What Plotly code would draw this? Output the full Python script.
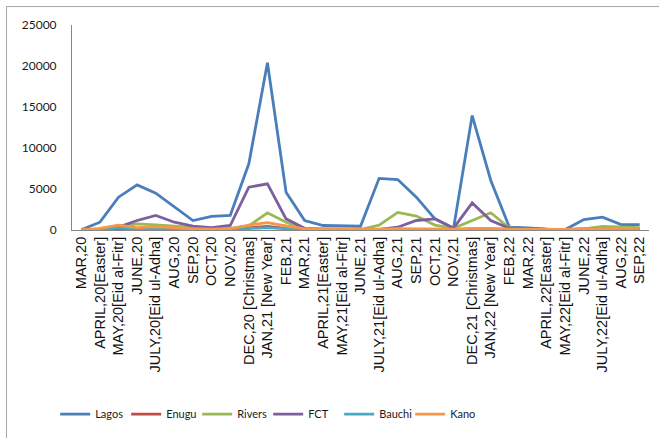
import plotly.graph_objects as go

months = [
    "MAR,20", "APRIL,20[Easter]", "MAY,20[Eid al-Fitr]", "JUNE,20",
    "JULY,20[Eid ul-Adha]", "AUG,20", "SEP,20", "OCT,20", "NOV,20",
    "DEC,20 [Christmas]", "JAN,21 [New Year]", "FEB,21", "MAR,21",
    "APRIL,21[Easter]", "MAY,21[Eid al-Fitr]", "JUNE,21",
    "JULY,21[Eid ul-Adha]", "AUG,21", "SEP,21", "OCT,21", "NOV,21",
    "DEC,21 [Christmas]", "JAN,22 [New Year]", "FEB,22", "MAR,22",
    "APRIL,22[Easter]", "MAY,22[Eid al-Fitr]", "JUNE,22",
    "JULY,22[Eid ul-Adha]", "AUG,22", "SEP,22",
]

lagos = [30, 950, 4000, 5500, 4500, 2800, 1150, 1650, 1770, 8070, 20400,
         4600, 1150, 550, 470, 460, 6300, 6150, 4000, 1360, 220, 13960,
         6040, 340, 250, 100, 50, 1280, 1560, 650, 650]
enugu = [0, 50, 200, 150, 150, 100, 50, 50, 80, 250, 450, 200, 50, 30, 20,
         20, 50, 80, 80, 50, 20, 150, 80, 30, 20, 10, 10, 50, 100, 80, 60]
rivers = [0, 100, 400, 750, 630, 450, 250, 150, 200, 500, 2100, 950, 150,
          100, 50, 50, 600, 2150, 1700, 600, 200, 1150, 2100, 250, 150, 50,
          50, 150, 450, 350, 300]
fct = [0, 100, 350, 1160, 1770, 950, 460, 300, 550, 5220, 5630, 1360, 200,
       100, 100, 100, 80, 340, 1160, 1360, 220, 3300, 1160, 200, 150, 50, 50,
       100, 200, 150, 150]
bauchi = [0, 50, 270, 100, 150, 100, 50, 30, 50, 150, 300, 150, 50, 20, 20,
          20, 30, 50, 50, 30, 20, 50, 50, 20, 10, 10, 10, 30, 80, 60, 50]
kano = [0, 200, 600, 300, 400, 250, 150, 100, 150, 600, 900, 500, 150, 100,
        80, 80, 100, 150, 150, 150, 100, 200, 200, 100, 80, 80, 80, 150, 200,
        200, 200]

y_ticks = [0, 5000, 10000, 15000, 20000, 25000]

series = [
    ("Lagos", lagos, "#4A7EBB"),
    ("Enugu", enugu, "#BE4B48"),
    ("Rivers", rivers, "#98B954"),
    ("FCT", fct, "#7D5FA0"),
    ("Bauchi", bauchi, "#46AAC5"),
    ("Kano", kano, "#F79646"),
]

fig = go.Figure()
for name, vals, color in series:
    fig.add_trace(go.Scatter(
        x=months, y=vals, name=name, mode="lines",
        line=dict(color=color, width=2.8),
    ))

fig.update_layout(
    width=659, height=438,
    margin=dict(l=72, r=10, t=25, b=208),
    paper_bgcolor="white", plot_bgcolor="white",
    showlegend=True,
    legend=dict(
        orientation="h", x=0.34, xanchor="center",
        y=-0.898, yanchor="middle",
        itemwidth=30, entrywidth=26, entrywidthmode="pixels",
        font=dict(family="Lato", size=11, color="#1a1a1a"),
        bgcolor="rgba(0,0,0,0)",
    ),
    shapes=[dict(
        type="rect", xref="paper", yref="paper",
        x0=-0.1135, x1=1.2, y0=-1.2, y1=1.090,
        line=dict(color="#A6A6A6", width=1), fillcolor="rgba(0,0,0,0)",
        layer="below",
    )],
)

fig.update_xaxes(
    type="category", range=[-0.5, len(months) - 0.5],
    tickangle=-90, showgrid=False, ticks="",
    showline=True, linecolor="#868686", linewidth=1,
    tickfont=dict(family="Liberation Sans", size=14.5, color="#111111"),
)
fig.update_yaxes(
    range=[0, 25000], tickvals=y_ticks, ticktext=[str(v) for v in y_ticks],
    showgrid=False, zeroline=False, ticks="",
    showline=True, linecolor="#868686", linewidth=1,
    tickfont=dict(family="Lato", size=12, color="#1a1a1a"),
    ticklabelstandoff=12,
)

fig.write_html("out.html")
